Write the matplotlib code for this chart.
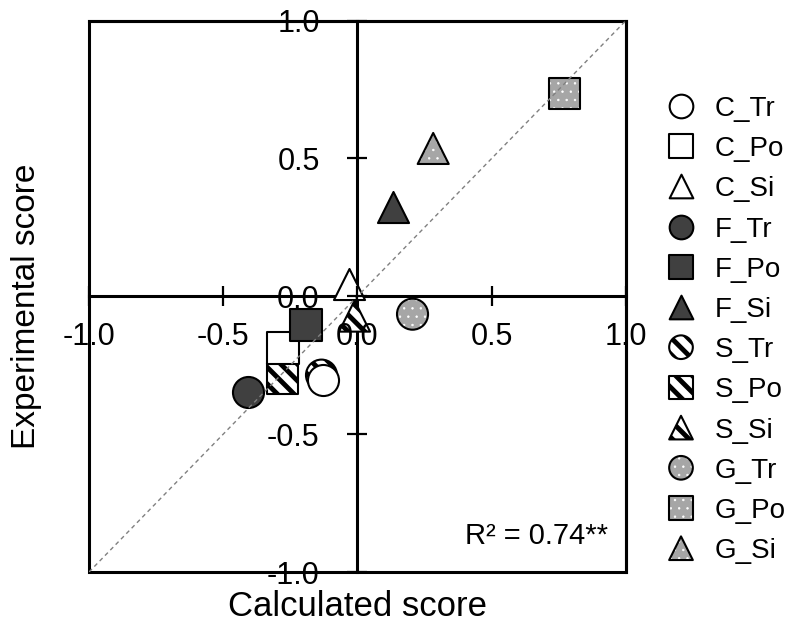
import matplotlib
matplotlib.use('Agg')
import matplotlib.pyplot as plt
from matplotlib.patches import Rectangle

plt.rcParams['font.family'] = ['Liberation Sans', 'DejaVu Sans']
plt.rcParams['axes.unicode_minus'] = False

# one point per sample: calculated vs experimental score
labels = ['C_Tr', 'C_Po', 'C_Si', 'F_Tr', 'F_Po', 'F_Si',
          'S_Tr', 'S_Po', 'S_Si', 'G_Tr', 'G_Po', 'G_Si']
calculated = [-0.128, -0.278, -0.030, -0.408, -0.192, 0.131,
              -0.134, -0.278, -0.011, 0.205, 0.771, 0.282]
experimental = [-0.304, -0.187, 0.045, -0.348, -0.105, 0.322,
                -0.286, -0.297, -0.072, -0.065, 0.735, 0.536]
ticks = [-1.0, -0.5, 0.0, 0.5, 1.0]
tick_labels = ['-1.0', '-0.5', '0.0', '0.5', '1.0']
identity = [-1.0, 1.0]
r2_text = 'R\u00b2 = 0.74**'

faces = {'C': 'white', 'F': '#404040', 'S': 'white', 'G': '#a6a6a6'}
markers = {'Tr': 'o', 'Po': 's', 'Si': '^'}
layer = {'S': 3, 'C': 4, 'F': 5, 'G': 6}


def draw_mark(ax, x, y, name, size, **kw):
    group, kind = name.split('_')
    opts = dict(marker=markers[kind], s=size, clip_on=False, zorder=layer[group])
    opts.update(kw)
    if group == 'G':
        # grey fill with white dots, black outline on top
        with plt.rc_context({'hatch.color': 'white', 'hatch.linewidth': 0.5}):
            ax.scatter([x], [y], facecolor=faces[group], edgecolor='none',
                       linewidths=0, hatch='..', **opts)
        ax.scatter([x], [y], facecolor='none', edgecolor='black', linewidths=1.5, **opts)
    elif group == 'S':
        with plt.rc_context({'hatch.color': 'black', 'hatch.linewidth': 3.5}):
            ax.scatter([x], [y], facecolor='white', edgecolor='black',
                       linewidths=1.5, hatch='\\\\', **opts)
    else:
        ax.scatter([x], [y], facecolor=faces[group], edgecolor='black', linewidths=1.5, **opts)


def main():
    fig = plt.figure(figsize=(7.96, 6.31), dpi=100)
    ax = fig.add_axes([0.1118, 0.0935, 0.6746, 0.874])

    for name, cx, ey in zip(labels, calculated, experimental):
        draw_mark(ax, cx, ey, name, 500)

    ax.plot(identity, identity, color='#808080', lw=1.0, ls=(0, (3, 2.5)), zorder=8)

    ax.set_xlim(-1, 1)
    ax.set_ylim(-1, 1)
    ax.spines['left'].set_position(('data', 0))
    ax.spines['bottom'].set_position(('data', 0))
    for side in ['left', 'bottom', 'top', 'right']:
        ax.spines[side].set_linewidth(2.2)
    ax.add_patch(Rectangle((0, 0), 1, 1, transform=ax.transAxes, fill=False,
                           lw=2.2, edgecolor='black', clip_on=False, zorder=2.5))
    ax.xaxis.set_ticks_position('bottom')
    ax.yaxis.set_ticks_position('left')
    ax.set_xticks(ticks)
    ax.set_xticklabels(tick_labels)
    ax.set_yticks(ticks)
    ax.set_yticklabels(tick_labels)
    ax.tick_params(axis='both', direction='inout', length=14.4, width=1.6, labelsize=22)
    ax.tick_params(axis='x', pad=11)
    ax.tick_params(axis='y', pad=20)
    ax.xaxis.set_zorder(9)
    ax.yaxis.set_zorder(9)

    ax.set_xlabel('Calculated score', fontsize=25)
    ax.xaxis.set_label_coords(0.5, -0.033)
    ax.set_ylabel('Experimental score', fontsize=24)
    ax.yaxis.set_label_coords(-0.0875, 0.482)

    ax.text(0.967, 0.05, r2_text, transform=ax.transAxes, ha='right', va='baseline',
            fontsize=21, zorder=10)

    # legend column drawn in figure pixel space
    lg = fig.add_axes([0, 0, 1, 1])
    lg.set_xlim(0, 796)
    lg.set_ylim(631, 0)
    lg.axis('off')
    for i, name in enumerate(labels):
        yy = 106 + 40.2 * i
        draw_mark(lg, 681, yy, name, 290)
        lg.text(715, yy, name, fontsize=20, va='center_baseline', ha='left')

    fig.savefig('out.png', dpi=100)


if __name__ == '__main__':
    main()
